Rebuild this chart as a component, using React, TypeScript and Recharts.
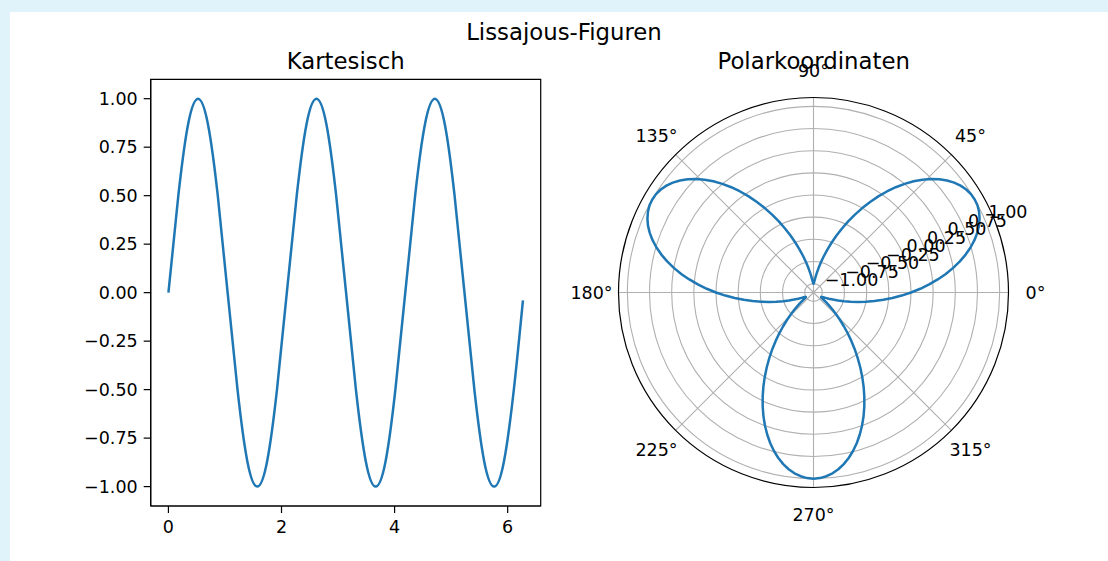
import React from 'react';
import {
  LineChart,
  Line,
  XAxis,
  YAxis,
  ReferenceArea,
  RadarChart,
  Radar,
  PolarGrid,
  PolarAngleAxis,
  PolarRadiusAxis,
} from 'recharts';

// ---- Cartesian panel data ----
const tValues = [
  0, 0.175, 0.349, 0.524, 0.698, 0.873, 1.047, 1.222, 1.396, 1.571, 1.745, 1.92,
  2.094, 2.269, 2.443, 2.618, 2.793, 2.967, 3.142, 3.316, 3.491, 3.665, 3.84, 4.014,
  4.189, 4.363, 4.538, 4.712, 4.887, 5.061, 5.236, 5.411, 5.585, 5.76, 5.934, 6.109,
  6.27,
];
const cartY = [
  0, 0.5, 0.87, 1, 0.87, 0.5, 0, -0.5, -0.87, -1, -0.87, -0.5,
  0, 0.5, 0.87, 1, 0.87, 0.5, 0, -0.5, -0.87, -1, -0.87, -0.5,
  0, 0.5, 0.87, 1, 0.87, 0.5, 0, -0.5, -0.87, -1, -0.87, -0.5,
  -0.04,
];
const xTicks = [0, 2, 4, 6];
const yTicks = [-1, -0.75, -0.5, -0.25, 0, 0.25, 0.5, 0.75, 1];

// ---- Polar panel data ----
const thetaDeg = [
  0, 2, 4, 6, 8, 10, 12, 14, 16, 18, 20, 22, 24, 26, 28, 30, 32, 34, 36, 38,
  40, 42, 44, 46, 48, 50, 52, 54, 56, 58, 60, 62, 64, 66, 68, 70, 72, 74, 76, 78,
  80, 82, 84, 86, 88, 90, 92, 94, 96, 98, 100, 102, 104, 106, 108, 110, 112, 114, 116, 118,
  120, 122, 124, 126, 128, 130, 132, 134, 136, 138, 140, 142, 144, 146, 148, 150, 152, 154, 156, 158,
  160, 162, 164, 166, 168, 170, 172, 174, 176, 178, 180, 182, 184, 186, 188, 190, 192, 194, 196, 198,
  200, 202, 204, 206, 208, 210, 212, 214, 216, 218, 220, 222, 224, 226, 228, 230, 232, 234, 236, 238,
  240, 242, 244, 246, 248, 250, 252, 254, 256, 258, 260, 262, 264, 266, 268, 270, 272, 274, 276, 278,
  280, 282, 284, 286, 288, 290, 292, 294, 296, 298, 300, 302, 304, 306, 308, 310, 312, 314, 316, 318,
  320, 322, 324, 326, 328, 330, 332, 334, 336, 338, 340, 342, 344, 346, 348, 350, 352, 354, 356, 358,
];
// one 120-degree period of the rose curve (outer lobe then inner pinch), repeated three times
const rosePeriod = [
  0, 0.105, 0.208, 0.309, 0.407, 0.5, 0.588, 0.669, 0.743, 0.809,
  0.866, 0.914, 0.951, 0.978, 0.995, 1, 0.995, 0.978, 0.951, 0.914,
  0.866, 0.809, 0.743, 0.669, 0.588, 0.5, 0.407, 0.309, 0.208, 0.105,
  0, -0.105, -0.208, -0.309, -0.407, -0.5, -0.588, -0.669, -0.743, -0.809,
  -0.866, -0.914, -0.951, -0.978, -0.995, -1, -0.995, -0.978, -0.951, -0.914,
  -0.866, -0.809, -0.743, -0.669, -0.588, -0.5, -0.407, -0.309, -0.208, -0.105,
];
const polarR = [...rosePeriod, ...rosePeriod, ...rosePeriod];
const angleTicks = [0, 45, 90, 135, 180, 225, 270, 315];
const rTicks = [-1, -0.75, -0.5, -0.25, 0, 0.25, 0.5, 0.75, 1];

const cartData = tValues.map((t, i) => ({ t, y: cartY[i] }));
const polarData = thetaDeg.map((theta, i) => ({ theta, r: polarR[i] }));

const X_DOMAIN: [number, number] = [-0.3135, 6.584];
const Y_DOMAIN: [number, number] = [-1.1, 1.1];

const FONT = "'DejaVu Sans', 'Liberation Sans', sans-serif";
const TICK_FS = 17.5;
const TITLE_FS = 22.8;
const BLUE = '#1f77b4';

const fmt = (v: number) => v.toFixed(2).replace('-', '\u2212');

const XTick = (p: any) => (
  <text x={p.x} y={p.y + TICK_FS * 0.73} textAnchor="middle" fontFamily={FONT} fontSize={TICK_FS} fill="#000">
    {String(p.payload.value)}
  </text>
);
const YTick = (p: any) => (
  <text x={p.x} y={p.y + TICK_FS * 0.36} textAnchor="end" fontFamily={FONT} fontSize={TICK_FS} fill="#000">
    {fmt(p.payload.value)}
  </text>
);
const AngleTick = (p: any) => (
  <text x={p.x} y={p.y + TICK_FS * 0.36} textAnchor="middle" fontFamily={FONT} fontSize={TICK_FS} fill="#000">
    {`${p.payload.value}\u00b0`}
  </text>
);
const RadiusTick = (p: any) => (
  <text x={p.x + 3} y={p.y - 3} textAnchor="start" fontFamily={FONT} fontSize={TICK_FS} fill="#000">
    {fmt(p.payload.value)}
  </text>
);

export default function App() {
  return (
    <div style={{ position: 'absolute', left: 0, top: 0, width: 1108, height: 561, overflow: 'hidden', background: '#e0f2fa' }}>
      <div style={{ position: 'absolute', left: 10, top: 12, right: 0, bottom: 0, background: '#ffffff' }} />

      <div style={{ position: 'absolute', left: 0, top: 0 }}>
        <LineChart
          width={560}
          height={561}
          data={cartData}
          margin={{ top: 79.3, right: 19.3, bottom: 15, left: 90.7 }}
        >
          <XAxis
            dataKey="t"
            type="number"
            domain={X_DOMAIN}
            ticks={xTicks}
            allowDataOverflow
            interval={0}
            height={40}
            tickSize={7}
            tickMargin={7}
            tick={XTick}
            axisLine={{ stroke: '#000', strokeWidth: 1.2 }}
            tickLine={{ stroke: '#000', strokeWidth: 1.2 }}
          />
          <YAxis
            type="number"
            domain={Y_DOMAIN}
            ticks={yTicks}
            allowDataOverflow
            interval={0}
            width={60}
            tickSize={7}
            tickMargin={6}
            tick={YTick}
            axisLine={{ stroke: '#000', strokeWidth: 1.2 }}
            tickLine={{ stroke: '#000', strokeWidth: 1.2 }}
          />
          <ReferenceArea
            x1={X_DOMAIN[0]}
            x2={X_DOMAIN[1]}
            y1={Y_DOMAIN[0]}
            y2={Y_DOMAIN[1]}
            fill="none"
            fillOpacity={0}
            stroke="#000"
            strokeWidth={1.2}
            strokeOpacity={1}
            ifOverflow="visible"
          />
          <Line
            type="natural"
            dataKey="y"
            stroke={BLUE}
            strokeWidth={2.5}
            dot={false}
            activeDot={false}
            isAnimationActive={false}
          />
        </LineChart>
      </div>

      <div style={{ position: 'absolute', left: 560, top: 0 }}>
        <RadarChart
          width={548}
          height={561}
          data={polarData}
          cx={253.5}
          cy={292.5}
          innerRadius={0}
          outerRadius={195}
          startAngle={0}
          endAngle={360}
          margin={{ top: 0, right: 0, bottom: 0, left: 0 }}
        >
          <PolarGrid gridType="circle" stroke="#b0b0b0" strokeWidth={1.1} />
          <PolarAngleAxis
            dataKey="theta"
            type="number"
            domain={[0, 360]}
            ticks={angleTicks}
            tickSize={27}
            tickLine={false}
            tick={AngleTick}
            axisLineType="circle"
            axisLine={{ stroke: '#000', strokeWidth: 1.2 }}
          />
          <Radar
            dataKey="r"
            stroke={BLUE}
            strokeWidth={2.5}
            strokeLinejoin="round"
            fill="none"
            fillOpacity={0}
            dot={false}
            isAnimationActive={false}
          />
          <PolarRadiusAxis
            angle={22.5}
            type="number"
            domain={Y_DOMAIN}
            ticks={rTicks}
            allowDataOverflow
            axisLine={false}
            tickLine={false}
            tick={RadiusTick}
          />
        </RadarChart>
      </div>

      <svg width={1108} height={561} style={{ position: 'absolute', left: 0, top: 0, pointerEvents: 'none' }}>
        <text x={564} y={40} textAnchor="middle" fontFamily={FONT} fontSize={TITLE_FS} fill="#000">
          Lissajous-Figuren
        </text>
        <text x={345.7} y={68.8} textAnchor="middle" fontFamily={FONT} fontSize={TITLE_FS} fill="#000">
          Kartesisch
        </text>
        <text x={813.7} y={68.8} textAnchor="middle" fontFamily={FONT} fontSize={TITLE_FS} fill="#000">
          Polarkoordinaten
        </text>
      </svg>
    </div>
  );
}
